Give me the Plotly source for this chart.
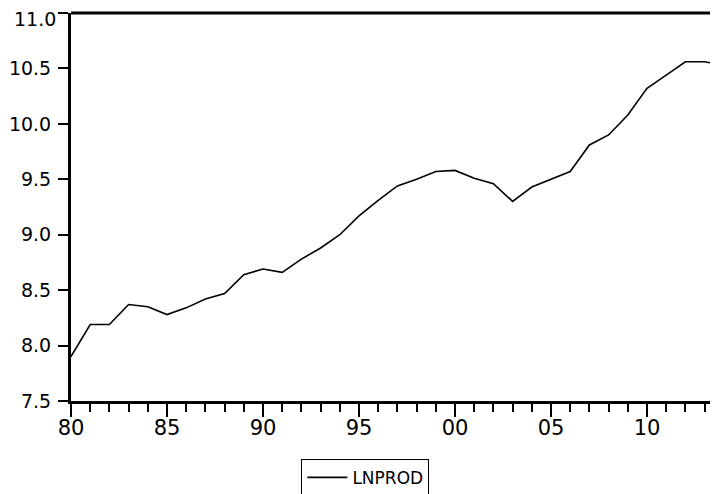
import plotly.graph_objects as go

years = list(range(1980, 2015))
lnprod = [7.90, 8.19, 8.19, 8.37, 8.35, 8.28, 8.34, 8.42, 8.47, 8.64,
          8.69, 8.66, 8.78, 8.88, 9.00, 9.17, 9.31, 9.44, 9.50, 9.57,
          9.58, 9.51, 9.46, 9.30, 9.43, 9.50, 9.57, 9.81, 9.90, 10.08,
          10.32, 10.44, 10.56, 10.56, 10.53]
xtick_vals = [1980, 1985, 1990, 1995, 2000, 2005, 2010]
xtick_text = ["80", "85", "90", "95", "00", "05", "10"]
ytick_vals = [7.5, 8.0, 8.5, 9.0, 9.5, 10.0, 10.5, 11.0]
ytick_text = ["7.5", "8.0", "8.5", "9.0", "9.5", "10.0", "10.5", ""]
top_label = "11.0"

fam = "DejaVu Sans, Arial, sans-serif"
font = dict(family=fam, size=19, color="black")

fig = go.Figure()
fig.add_trace(go.Scatter(x=years, y=lnprod, mode="lines", name="LNPROD",
                         line=dict(color="black", width=1.6)))

# The page body keeps its default 8 px margin, so margins are shifted by 8 px.
fig.update_layout(
    width=718, height=494,
    margin=dict(l=63, r=8, t=5, b=99),
    paper_bgcolor="white", plot_bgcolor="white",
    font=font,
    showlegend=True,
    legend=dict(orientation="h", x=0.455, xanchor="center", y=-0.149, yanchor="top",
                bordercolor="black", borderwidth=1, bgcolor="white",
                font=dict(family=fam, size=17, color="black"),
                itemwidth=40),
    shapes=[dict(type="line", xref="paper", yref="paper", x0=0, x1=1, y0=1, y1=1,
                 line=dict(color="black", width=3))],
    annotations=[dict(text=top_label, xref="paper", x=0, xanchor="right", xshift=-13,
                      yref="y", y=ytick_vals[-1], yanchor="middle", yshift=-6,
                      showarrow=False, font=font)],
)
fig.update_xaxes(
    range=[1980, 1980 + 647 / 19.2],
    tickmode="array", tickvals=xtick_vals, ticktext=xtick_text,
    ticks="outside", ticklen=13, tickwidth=2, tickcolor="black",
    tickfont=dict(family=fam, size=21, color="black"), ticklabelstandoff=-7,
    minor=dict(ticks="outside", dtick=1, tick0=1980, ticklen=8, tickwidth=2, tickcolor="black"),
    showline=True, linecolor="black", linewidth=3, mirror=False,
    showgrid=False, zeroline=False, automargin=False,
)
fig.update_yaxes(
    range=[7.5, 11.0],
    tickmode="array", tickvals=ytick_vals, ticktext=ytick_text,
    ticks="outside", ticklen=10, tickwidth=2, tickcolor="black",
    ticklabelstandoff=3, ticklabeloverflow="allow",
    showline=True, linecolor="black", linewidth=3, mirror=False,
    showgrid=False, zeroline=False, automargin=False,
)

fig.write_html("out.html", config={"displayModeBar": False})
